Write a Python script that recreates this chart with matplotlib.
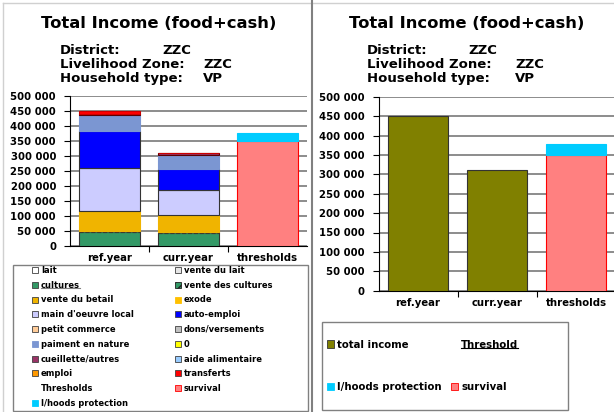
import matplotlib
matplotlib.use('Agg')
import matplotlib.pyplot as plt
import matplotlib.patches as mpatches
from matplotlib.lines import Line2D
from matplotlib.ticker import FuncFormatter
import numpy as np

plt.rcParams['font.family'] = 'DejaVu Sans'
plt.rcParams['font.weight'] = 'bold'

# ---- data ----
categories = ['ref.year', 'curr.year', 'thresholds']

sources = ['lait', 'vente du lait', 'cultures', 'vente des cultures',
           'vente du betail', 'exode', "main d'oeuvre local", 'auto-emploi',
           'petit commerce', 'dons/versements', 'paiment en nature', '0',
           'cueillette/autres', 'aide alimentaire', 'emploi', 'transferts']
ref_year = [0, 0, 47000, 1500, 68000, 0, 142000, 126000,
            0, 0, 51000, 0, 3000, 0, 0, 11500]
curr_year = [0, 0, 44000, 1000, 58000, 0, 84000, 68000,
             0, 0, 47000, 0, 8000, 0, 0, 1000]

survival = 350000
protection = 28000

# ---- styles ----
src_colors = ['#FFFFFF', '#E6E6E6', '#339966', '#339966',
              '#F0B400', '#FFC000', '#CCCCFF', '#0000FF',
              '#FFCC99', '#C0C0C0', '#7B96D2', '#FFFF00',
              '#993366', '#99CCFF', '#FF9900', '#FF0000']
src_edges = ['#000000', '#808080', '#333333', '#333333',
             '#F0B400', '#FFC000', '#333333', '#333333',
             '#333333', '#333333', '#7B96D2', '#333333',
             '#5a0000', '#333333', '#333333', '#CC0000']
c_surv, c_prot, c_total = '#FF8080', '#00CCFF', '#808000'

W, H = 614, 412
fig = plt.figure(figsize=(W / 100, H / 100), dpi=100)


def fx(px):
    return px / W


def fy(py):
    return 1 - py / H


ax1 = fig.add_axes([fx(70), fy(245.7), (307 - 70) / W, (245.7 - 96) / H])
ax2 = fig.add_axes([fx(378.5), fy(290.7), 237 / W, (290.7 - 96.7) / H])

fmt = FuncFormatter(lambda v, p: f'{int(v):,}'.replace(',', ' '))
for ax in (ax1, ax2):
    ax.set_xlim(-0.5, 2.5)
    ax.set_ylim(0, 500000)
    ax.set_yticks(np.arange(0, 500001, 50000))
    ax.yaxis.set_major_formatter(fmt)
    ax.set_xticks(range(3))
    ax.set_xticklabels(categories)
    ax.set_xticks([0.5, 1.5], minor=True)
    ax.tick_params(axis='x', which='major', length=0, pad=5.5, labelsize=7.3)
    ax.tick_params(axis='x', which='minor', length=4, width=0.8)
    ax.tick_params(axis='y', length=4, width=0.8, pad=6, labelsize=7.3)
    ax.yaxis.grid(True, color='#8c8c8c', lw=1.4, zorder=0)
    ax.set_axisbelow(True)
    for s in ('top', 'right'):
        ax.spines[s].set_visible(False)
    ax.spines['left'].set_linewidth(0.8)
    ax.spines['bottom'].set_linewidth(0.8)
    ax.patch.set_alpha(0)

# left: stacked income sources
x = np.arange(2)
bottom = np.zeros(2)
for name, col, ec, r, c in zip(sources, src_colors, src_edges, ref_year, curr_year):
    vals = np.array([r, c], dtype=float)
    m = vals > 0
    if m.any():
        ls = '--' if name == 'vente des cultures' else '-'
        ax1.bar(x[m], vals[m], width=0.77, bottom=bottom[m], color=col,
                edgecolor=ec, lw=0.8, ls=ls, zorder=3)
    bottom += vals
ax1.bar(2, survival, width=0.77, color=c_surv, edgecolor='#FF0000', lw=0.8, zorder=3)
ax1.bar(2, protection, width=0.77, bottom=survival, color=c_prot,
        edgecolor=c_prot, lw=0.8, zorder=3)

# right: totals
totals = [sum(ref_year), sum(curr_year)]
ax2.bar(x, totals, width=0.76, color=c_total, edgecolor='#333333', lw=0.8, zorder=3)
ax2.bar(2, survival, width=0.76, color=c_surv, edgecolor='#FF0000', lw=0.8, zorder=3)
ax2.bar(2, protection, width=0.76, bottom=survival, color=c_prot,
        edgecolor=c_prot, lw=0.8, zorder=3)

# titles
for cx, x0, xv1, xv2 in ((159, 60, 162, 203), (467, 367, 468, 515)):
    fig.text(fx(cx), fy(23), 'Total Income (food+cash)', ha='center', va='center',
             fontsize=11.8, fontweight='bold')
    fig.text(fx(x0), fy(51), 'District:', va='center', fontsize=9.5)
    fig.text(fx(xv1), fy(51), 'ZZC', va='center', fontsize=9.5)
    fig.text(fx(x0), fy(64.5), 'Livelihood Zone:', va='center', fontsize=9.5)
    fig.text(fx(xv2), fy(64.5), 'ZZC', va='center', fontsize=9.5)
    fig.text(fx(x0), fy(78.5), 'Household type:', va='center', fontsize=9.5)
    fig.text(fx(xv2), fy(78.5), 'VP', va='center', fontsize=9.5)

# legend handles
h = {}
for name, col, ec in zip(sources, src_colors, src_edges):
    h[name] = mpatches.Patch(facecolor=col, edgecolor='#404040', lw=0.6)
h['vente des cultures'] = mpatches.Patch(facecolor='#339966', edgecolor='#202020',
                                         hatch='////', lw=0.6)
h['exode'] = mpatches.Patch(facecolor='#FFC000', edgecolor='#FFC000', lw=0.6)
h['paiment en nature'] = mpatches.Patch(facecolor='#7B96D2', edgecolor='#7B96D2', lw=0.6)
h['Thresholds'] = mpatches.Patch(facecolor='none', edgecolor='none')
h['survival'] = mpatches.Patch(facecolor=c_surv, edgecolor='#FF0000', lw=0.6)
h['l/hoods protection'] = mpatches.Patch(facecolor=c_prot, edgecolor=c_prot, lw=0.6)

col_a = ['lait', 'cultures', 'vente du betail', "main d'oeuvre local", 'petit commerce',
         'paiment en nature', 'cueillette/autres', 'emploi', 'Thresholds',
         'l/hoods protection']
col_b = ['vente du lait', 'vente des cultures', 'exode', 'auto-emploi',
         'dons/versements', '0', 'aide alimentaire', 'transferts', 'survival']

kw = dict(loc='upper left', frameon=False, fontsize=6, handlelength=0.75,
          handleheight=0.75, handletextpad=0.3, labelspacing=0.69,
          borderpad=0, borderaxespad=0)
leg_a = fig.legend([h[n] for n in col_a], col_a, bbox_to_anchor=(fx(32), fy(266)), **kw)
leg_b = fig.legend([h[n] for n in col_b], col_b, bbox_to_anchor=(fx(175), fy(266)), **kw)

fig.add_artist(mpatches.Rectangle((fx(13), fy(411)), (308 - 13) / W, (411 - 265) / H,
                                  transform=fig.transFigure, fill=False,
                                  edgecolor='#808080', lw=1))

# right legend
h_total = mpatches.Patch(facecolor=c_total, edgecolor='#333333', lw=0.6)
kw2 = dict(loc='upper left', frameon=False, fontsize=7.3, handlelength=0.7,
           handleheight=0.7, handletextpad=0.3, labelspacing=3.25,
           borderpad=0, borderaxespad=0)
leg_c = fig.legend([h_total, h['l/hoods protection']], ['total income', 'l/hoods protection'],
                   bbox_to_anchor=(fx(327), fy(339.5)), **kw2)
leg_d = fig.legend([h['Thresholds'], h['survival']], ['Threshold', 'survival'],
                   bbox_to_anchor=(fx(451), fy(339.5)), **kw2)

fig.add_artist(mpatches.Rectangle((fx(322), fy(410)), (568 - 322) / W, (410 - 322) / H,
                                  transform=fig.transFigure, fill=False,
                                  edgecolor='#808080', lw=1))

# panel borders
fig.add_artist(Line2D([fx(3), 1], [fy(3), fy(3)], color='#d0d0d0', lw=1))
fig.add_artist(Line2D([fx(3), fx(3)], [0, fy(3)], color='#d0d0d0', lw=1))
fig.add_artist(Line2D([fx(312), fx(312)], [0, 1], color='#808080', lw=1.5))

# underlined legend labels
fig.canvas.draw()
rend = fig.canvas.get_renderer()
for leg, word, col in ((leg_a, 'cultures', '#808080'), (leg_d, 'Threshold', '#000000')):
    for t in leg.get_texts():
        if t.get_text() == word:
            bb = t.get_window_extent(rend)
            yb = bb.y0 + 1.5
            fig.add_artist(Line2D([bb.x0 / W, bb.x1 / W], [yb / H, yb / H],
                                  color=col, lw=0.8))

fig.savefig('out.png', dpi=100)
